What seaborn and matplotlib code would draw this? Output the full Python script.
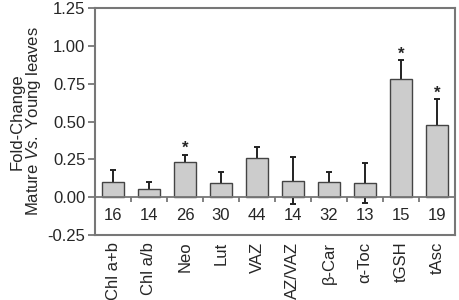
import matplotlib
matplotlib.use("Agg")
import matplotlib.pyplot as plt
import seaborn as sns
import numpy as np
import pandas as pd

categories = ["Chl a+b", "Chl a/b", "Neo", "Lut", "VAZ", "AZ/VAZ", "β-Car", "α-Toc", "tGSH", "tAsc"]
values = [0.102, 0.054, 0.233, 0.096, 0.257, 0.109, 0.100, 0.094, 0.782, 0.475]
errors = [0.078, 0.046, 0.047, 0.071, 0.073, 0.155, 0.064, 0.134, 0.123, 0.172]
n_counts = [16, 14, 26, 30, 44, 14, 32, 13, 15, 19]
significant = [False, False, True, False, False, False, False, False, True, True]
yticks = [-0.25, 0.0, 0.25, 0.5, 0.75, 1.0, 1.25]

sns.set_style("white")
plt.rcParams['font.family'] = ['Liberation Sans', 'DejaVu Sans']
plt.rcParams['mathtext.fontset'] = 'custom'
plt.rcParams['mathtext.it'] = 'Liberation Sans:italic'
plt.rcParams['mathtext.rm'] = 'Liberation Sans'

df = pd.DataFrame({"cat": categories, "val": values, "err": errors})

fig = plt.figure(figsize=(4.59, 3.0), dpi=100)
ax = fig.add_axes([0.207, 0.217, 0.784, 0.756])

x = np.arange(len(categories))
ax.errorbar(x, values, yerr=errors, fmt="none", ecolor="#222222", elinewidth=1.4,
            capsize=2.5, capthick=1.4, zorder=1)
sns.barplot(data=df, x="cat", y="val", ax=ax, color="#cccccc", width=0.6,
            edgecolor="#444444", linewidth=1.0, saturation=1, zorder=2)

sp = 0.04
for i, (v, e, s) in enumerate(zip(values, errors, significant)):
    if s:
        ax.text(i, v + e + sp, "*", ha="center", va="center", fontsize=12, fontweight="bold")
for i, n in enumerate(n_counts):
    ax.text(i, -0.125, str(n), ha="center", va="center", fontsize=12)

ax.axhline(0, color="#777777", lw=1.3, zorder=3)
ax.vlines(x[:-1] + 0.5, -0.03, 0, color="#777777", lw=1.3, zorder=3)

ax.set_xlim(-0.5, len(categories) - 0.5)
ax.set_ylim(-0.25, 1.25)
ax.set_yticks(yticks)
ax.set_yticklabels([f"{t:.2f}" for t in yticks], fontsize=12)
ax.set_xticks(x)
ax.set_xticklabels(categories, rotation=90, fontsize=12)
ax.tick_params(axis="x", length=0, pad=5)
ax.tick_params(axis="y", length=5, width=1.3, color="#777777", left=True, pad=2)
for s in ax.spines.values():
    s.set_color("#777777")
    s.set_linewidth(1.5)
ax.set_xlabel("")
ax.set_ylabel("Fold-Change\nMature $\\it{Vs.}$ Young leaves", fontsize=12, labelpad=3, linespacing=1.0)

fig.savefig("out.png", dpi=100)
